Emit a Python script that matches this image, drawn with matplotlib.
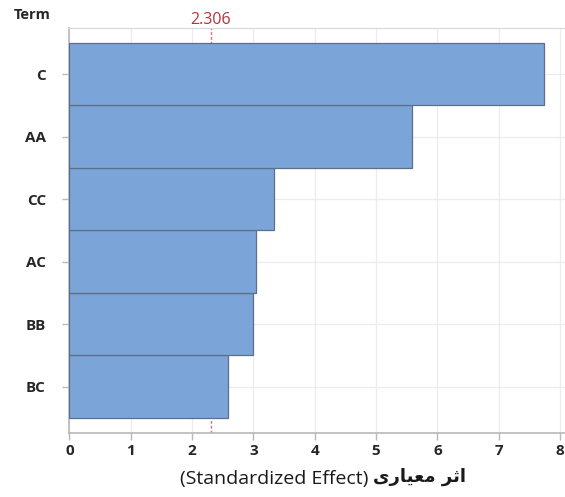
import numpy as np
import matplotlib
matplotlib.use('Agg')
import matplotlib.pyplot as plt

# standardized effects of the model terms (Pareto order, largest on top)
terms = ['BC', 'BB', 'AC', 'CC', 'AA', 'C']
effects = [2.58, 2.99, 3.04, 3.34, 5.59, 7.73]
t_crit = 2.306
xticks = [0, 1, 2, 3, 4, 5, 6, 7, 8]

BAR = '#7ba5d8'
EDGE = '#5d6f88'
AXC = '#b8b8b8'
RED = '#b5323a'
FONT = ['Open Sans', 'DejaVu Sans']

# persian words in shaped presentation forms, laid out left to right
fa_label = '\ufbfc\ufead\ufe8e\ufbff\ufecc\ufee3 \ufeae\ufe9b\ufe8d'
en_label = '(Standardized Effect)'

fig = plt.figure(figsize=(5.65, 4.97), dpi=100)
ax = fig.add_axes([0.123, 0.129, 0.877, 0.815])

y = np.arange(len(terms))
ax.barh(y, effects, height=1.0, color=BAR, edgecolor=EDGE, linewidth=0.9, zorder=3)
ax.axvline(t_crit, color='#e86a6a', ls=(0, (2, 1.5)), lw=1.0, zorder=2)

ax.set_xlim(0, 8.08)
ax.set_ylim(-0.74, len(terms) - 0.26)
ax.set_xticks(xticks)
ax.set_yticks(y)
ax.set_yticklabels(terms)

ax.grid(True, color='#ececec', lw=0.9, zorder=0)
ax.set_axisbelow(True)
for s in ['left', 'bottom']:
    ax.spines[s].set_color(AXC)
    ax.spines[s].set_linewidth(1.2)
ax.spines['top'].set_color('#d8d8d8')
ax.spines['right'].set_visible(False)
ax.tick_params(axis='both', colors=AXC, length=5, width=1)
for lab in ax.get_xticklabels() + ax.get_yticklabels():
    lab.set_family(FONT)
    lab.set_fontsize(11)
    lab.set_fontweight('bold')
    lab.set_color('#262626')
ax.tick_params(axis='y', pad=12)
ax.tick_params(axis='x', pad=3)

fig.text(14 / 565, 1 - 15 / 497, 'Term', family=FONT, fontsize=10.5,
         fontweight='bold', color='#262626', ha='left', va='center')
ax.text(t_crit, 1.0, '2.306', transform=ax.get_xaxis_transform(), family=FONT,
        fontsize=11.5, color=RED, ha='center', va='bottom')

fig.text(368 / 565, 1 - 479 / 497, en_label, family=FONT, fontsize=14,
         color='#1a1a1a', ha='right', va='center')
fig.text(373 / 565, 1 - 477 / 497, fa_label, family=['DejaVu Sans'], fontsize=13,
         fontweight='bold', color='#1a1a1a', ha='left', va='center')

fig.savefig('out.png', dpi=100)
